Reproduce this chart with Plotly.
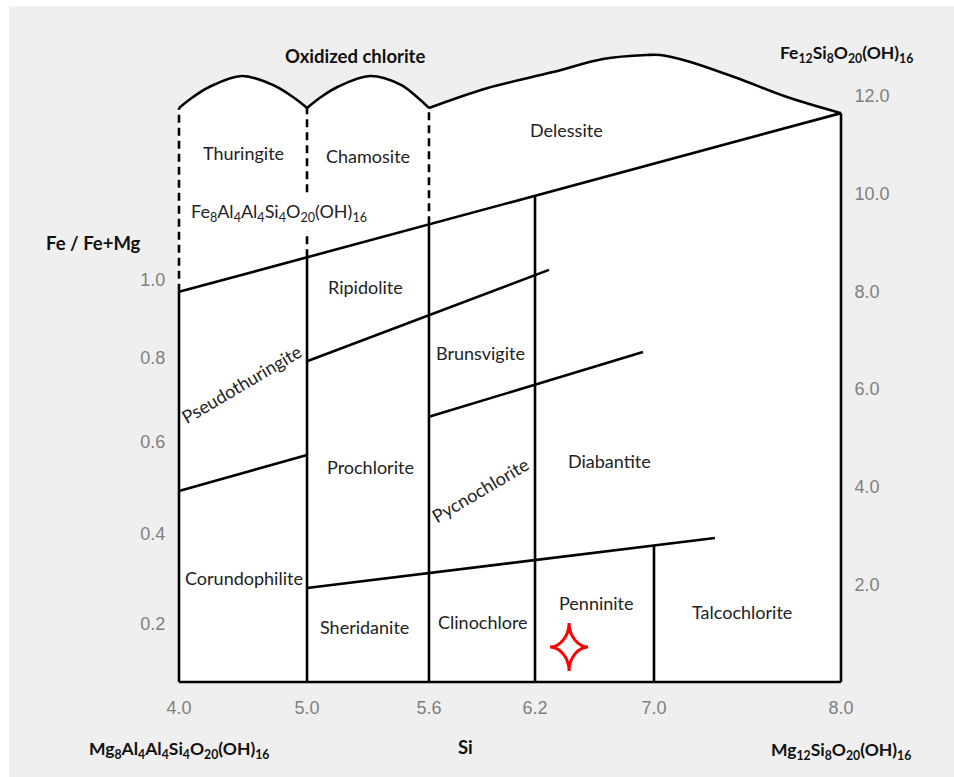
import numpy as np
import plotly.graph_objects as go

# ---------------- axis data ----------------
si_ticks = [4.0, 5.0, 5.6, 6.2, 7.0, 8.0]
si_tick_labels = ["4.0", "5.0", "5.6", "6.2", "7.0", "8.0"]
si_tick_pos = [0.0, 0.1934, 0.3776, 0.5378, 0.7175, 1.0]  # schematic (non-linear) Si scale

fe_ticks = [2, 4, 6, 8, 10, 12]
fe_tick_labels = ["2.0", "4.0", "6.0", "8.0", "10.0", "12.0"]

ratio_tick_labels = ["0.2", "0.4", "0.6", "0.8", "1.0"]
ratio_tick_fe = [1.19, 3.03, 4.92, 6.64, 8.24]  # where Fe/(Fe+Mg) ticks sit on Fe scale

# ---------------- boundary lines (Si, Fe) ----------------
top_fe = 11.755
main_si = [4.0, 8.0]
main_fe = [7.99, 11.65]
lineA_si = [5.0, 6.294]
lineA_fe = [6.57, 8.44]
lineB_si = [4.0, 5.0]
lineB_fe = [3.91, 4.65]
lineC_si = [5.6, 6.926]
lineC_fe = [5.43, 6.76]
lineD_si = [5.0, 7.326]
lineD_fe = [1.925, 2.95]

dashed_si = [4.0, 5.0, 5.6]
main_verticals_si = [5.0, 5.6, 6.2]

# top outlines (oxidized chlorite domes and delessite cap)
arc1_si = [4.0, 4.11, 4.24, 4.49, 4.73, 4.89, 5.0]
arc1_fe = [11.755, 11.98, 12.19, 12.41, 12.23, 11.98, 11.755]
arc2_si = [5.0, 5.069, 5.152, 5.31, 5.462, 5.541, 5.6]
arc2_fe = [11.755, 11.98, 12.19, 12.41, 12.23, 11.98, 11.755]
arc3_si = [5.6, 5.928, 6.321, 6.657, 6.953, 7.032, 7.176, 7.444, 7.711, 8.0]
arc3_fe = [11.755, 12.16, 12.49, 12.76, 12.84, 12.84, 12.72, 12.37, 11.98, 11.65]

# sample point
star_si = [6.429]
star_fe = [0.717]

# region labels
labels = ["Thuringite", "Chamosite", "Delessite",
          "Fe<sub>8</sub>Al<sub>4</sub>Al<sub>4</sub>Si<sub>4</sub>O<sub>20</sub>(OH)<sub>16</sub>",
          "Ripidolite", "Brunsvigite", "Pseudothuringite", "Prochlorite", "Pycnochlorite",
          "Diabantite", "Corundophilite", "Sheridanite", "Clinochlore", "Penninite", "Talcochlorite"]
label_si = [4.5, 5.3, 6.41, 4.78, 5.288, 5.889, 4.488, 5.31, 5.889, 6.704, 4.504, 5.285, 5.908, 6.613, 7.473]
label_fe = [10.83, 10.77, 11.30, 9.62, 8.09, 6.74, 6.10, 4.40, 3.93, 4.53, 2.13, 1.13, 1.23, 1.62, 1.43]
label_angle = [0, 0, 0, 0, 0, 0, -30.5, 0, -30.5, 0, 0, 0, 0, 0, 0]
label_knockout = [False, False, False, True, False, False, False, False, False, False, False, False,
                  False, False, False]


def sx(si):
    return np.interp(si, si_ticks, si_tick_pos)


def fe_on(l_si, l_fe, si):
    return float(np.interp(sx(si), sx(l_si), l_fe))


# ---------------- layout geometry ----------------
W, H = 954, 777
ML, MR, MT, MB = 171, 105, 40, 89
x0_px, x1_px = 179, 841          # Si 4.0 and 8.0
y0_px, pxu = 682, 48.83          # Fe 0 and px per Fe unit
pw, ph = W - ML - MR, H - MT - MB
xr = [(ML - x0_px) / (x1_px - x0_px), (W - MR - x0_px) / (x1_px - x0_px)]
yr = [(y0_px - (H - MB)) / pxu, (y0_px - MT) / pxu]


def px2paper(px, py):
    return (px - ML) / pw, ((H - MB) - py) / ph


fig = go.Figure()

# white fill under the caps
for a_si, a_fe in [(arc1_si, arc1_fe), (arc2_si, arc2_fe), (arc3_si, arc3_fe)]:
    fig.add_trace(go.Scatter(x=sx(a_si), y=a_fe, mode="lines", line=dict(width=0, shape="spline"),
                             fill="tozeroy", fillcolor="white", hoverinfo="skip", showlegend=False))

LW = 2.6
for a_si, a_fe in [(arc1_si, arc1_fe), (arc2_si, arc2_fe), (arc3_si, arc3_fe)]:
    fig.add_trace(go.Scatter(x=sx(a_si), y=a_fe, mode="lines",
                             line=dict(color="black", width=LW, shape="spline", smoothing=1.0),
                             hoverinfo="skip", showlegend=False))

# solid segments
segs = []
segs.append(([4.0, 4.0], [fe_on(main_si, main_fe, 4.0), 0]))
segs.append(([4.0, 8.0], [0, 0]))
segs.append(([8.0, 8.0], [0, main_fe[1]]))
segs.append((main_si, main_fe))
for s in main_verticals_si:
    segs.append(([s, s], [0, fe_on(main_si, main_fe, s)]))
segs.append(([7.0, 7.0], [0, fe_on(lineD_si, lineD_fe, 7.0)]))
for l_si, l_fe in [(lineA_si, lineA_fe), (lineB_si, lineB_fe), (lineC_si, lineC_fe), (lineD_si, lineD_fe)]:
    segs.append((l_si, l_fe))

xs, ys = [], []
for s_si, s_fe in segs:
    xs += list(sx(s_si)) + [None]
    ys += list(s_fe) + [None]
fig.add_trace(go.Scatter(x=xs, y=ys, mode="lines", line=dict(color="black", width=LW),
                         hoverinfo="skip", showlegend=False))

# dashed segments
xs, ys = [], []
for s in dashed_si:
    xs += [float(sx(s)), float(sx(s)), None]
    ys += [fe_on(main_si, main_fe, s), top_fe, None]
fig.add_trace(go.Scatter(x=xs, y=ys, mode="lines", line=dict(color="black", width=LW, dash="8px,5px"),
                         hoverinfo="skip", showlegend=False))

# left ratio axis (overlay, ticks only)
fig.add_trace(go.Scatter(x=[None], y=[None], yaxis="y2", showlegend=False, hoverinfo="skip"))

# star sample: 4-pointed concave star anchored at the data point (pixel-sized glyph)
for s, f in zip(star_si, star_fe):
    fig.add_shape(type="path", xref="x", yref="y", xsizemode="pixel", ysizemode="pixel",
                  xanchor=float(sx(s)), yanchor=f,
                  path="M -19,0 C -9,0 0,-11 0,-24 C 0,-11 9,0 19,0 C 9,0 0,11 0,24 C 0,11 -9,0 -19,0 Z",
                  line=dict(color="#ff0000", width=3), fillcolor="white", layer="above")

label_font = dict(family="Lato, 'Open Sans', sans-serif", size=18, color="#222222")
for t, s, f, a, k in zip(labels, label_si, label_fe, label_angle, label_knockout):
    fig.add_annotation(x=float(sx(s)), y=f, text=t, showarrow=False, textangle=a,
                       font=label_font, xanchor="center", yanchor="middle",
                       bgcolor="white" if k else "rgba(0,0,0,0)", borderpad=6 if k else 1)

bold_font = dict(family="Lato, 'Open Sans', sans-serif", size=18.5, color="#111111")
formula_font = dict(family="Lato, 'Open Sans', sans-serif", size=17.5, color="#111111")
outer = [
    ("<b>Oxidized chlorite</b>", 354.5, 56, bold_font),
    ("<b>Fe<sub>12</sub>Si<sub>8</sub>O<sub>20</sub>(OH)<sub>16</sub></b>", 846, 54, formula_font),
    ("<b>Fe / Fe+Mg</b>", 93, 243, bold_font),
    ("<b>Mg<sub>8</sub>Al<sub>4</sub>Al<sub>4</sub>Si<sub>4</sub>O<sub>20</sub>(OH)<sub>16</sub></b>", 178.5, 750,
     formula_font),
    ("<b>Si</b>", 465, 747, bold_font),
    ("<b>Mg<sub>12</sub>Si<sub>8</sub>O<sub>20</sub>(OH)<sub>16</sub></b>", 841, 751, formula_font),
]
for t, px, py, fnt in outer:
    xp, yp = px2paper(px, py)
    fig.add_annotation(x=xp, y=yp, xref="paper", yref="paper", text=t, showarrow=False,
                       font=fnt, xanchor="center", yanchor="middle")

# gray background panel
gx0, gy0 = px2paper(9, 6)
gx1, gy1 = px2paper(W + 5, H + 5)
fig.add_shape(type="rect", xref="paper", yref="paper", x0=gx0, x1=gx1, y0=gy1, y1=gy0,
              fillcolor="#efefef", line=dict(width=0), layer="below")

tick_font = dict(family="Liberation Sans, Arial, sans-serif", size=18, color="#808080")
fig.update_layout(
    width=W, height=H,
    margin=dict(l=ML, r=MR, t=MT, b=MB, autoexpand=False),
    paper_bgcolor="white", plot_bgcolor="rgba(0,0,0,0)",
    xaxis=dict(range=xr, tickvals=list(sx(si_ticks)), ticktext=si_tick_labels, showgrid=False,
               zeroline=False, showline=False, ticks="outside", ticklen=3, tickcolor="rgba(0,0,0,0)",
               tickfont=tick_font, fixedrange=True),
    yaxis=dict(range=yr, side="right", tickvals=fe_ticks, ticktext=fe_tick_labels, showgrid=False,
               zeroline=False, showline=False, ticks="outside", ticklen=1, tickcolor="rgba(0,0,0,0)",
               tickfont=tick_font, fixedrange=True),
    yaxis2=dict(range=yr, overlaying="y", side="left", tickvals=ratio_tick_fe, ticktext=ratio_tick_labels,
                showgrid=False, zeroline=False, showline=False, ticks="outside", ticklen=1,
                tickcolor="rgba(0,0,0,0)", tickfont=tick_font, fixedrange=True),
)

fig.write_html("out.html")
